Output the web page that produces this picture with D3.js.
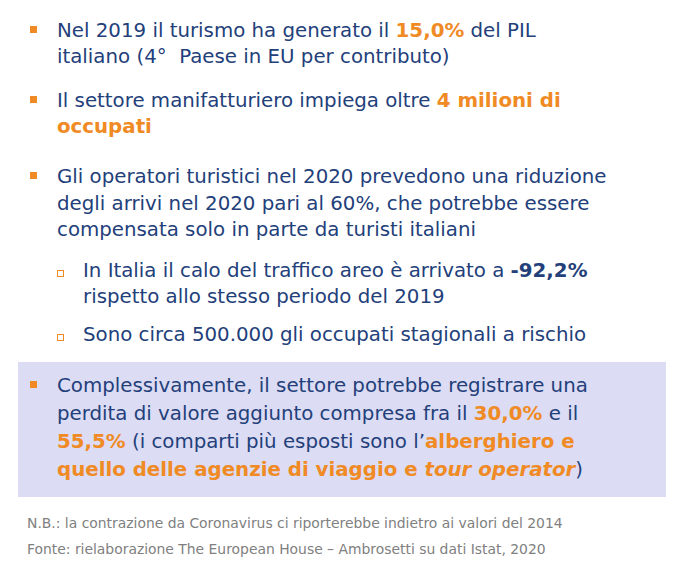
<!DOCTYPE html><html><head><meta charset="utf-8">
<script src="https://cdn.jsdelivr.net/npm/d3@7"></script>
<style>body{margin:0;background:#fff}</style></head><body><svg id="c" width="676" height="568"></svg>
<script>
// segments: [text, style] style: n normal, o orange bold, b blue bold, oi orange bold italic
const bullet1 = [[["Nel 2019 il turismo ha generato il ","n"],["15,0%","o"],[" del PIL","n"]],
                 [["italiano (4°  Paese in EU per contributo)","n"]]];
const bullet2 = [[["Il settore manifatturiero impiega oltre ","n"],["4 milioni di","o"]],
                 [["occupati","o"]]];
const bullet3 = [[["Gli operatori turistici nel 2020 prevedono una riduzione","n"]],
                 [["degli arrivi nel 2020 pari al 60%, che potrebbe essere","n"]],
                 [["compensata solo in parte da turisti italiani","n"]]];
const sub1 = [[["In Italia il calo del traffico areo è arrivato a ","n"],["-92,2%","b"]],
              [["rispetto allo stesso periodo del 2019","n"]]];
const sub2 = [[["Sono circa 500.000 gli occupati stagionali a rischio","n"]]];
const bullet4 = [[["Complessivamente, il settore potrebbe registrare una","n"]],
                 [["perdita di valore aggiunto compresa fra il ","n"],["30,0%","o"],[" e il","n"]],
                 [["55,5%","o"],[" (i comparti più esposti sono l’","n"],["alberghiero e","o"]],
                 [["quello delle agenzie di viaggio e ","o"],["tour operator","oi"],[")","n"]]];
const notes = ["N.B.: la contrazione da Coronavirus ci riporterebbe indietro ai valori del 2014",
               "Fonte: rielaborazione The European House – Ambrosetti su dati Istat, 2020"];

const svg = d3.select("#c");
const blue="#23407a", orange="#f08a24";
svg.append("rect").attr("x",18).attr("y",362).attr("width",648).attr("height",135).attr("fill","#dcdcf4");
const font="DejaVu Sans, Verdana, sans-serif";
function block(lines,x,y0,lh,bulletType){
  if(bulletType==="main") svg.append("rect").attr("x",30).attr("y",y0-11).attr("width",7).attr("height",7).attr("fill",orange);
  if(bulletType==="sub") svg.append("rect").attr("x",57.5).attr("y",y0-6.5).attr("width",6).attr("height",6).attr("fill","none").attr("stroke",orange).attr("stroke-width",1);
  lines.forEach((segs,i)=>{
    const t=svg.append("text").attr("x",x).attr("y",y0+i*lh).attr("font-family",font).attr("font-size",19.8).attr("fill",blue);
    t.selectAll("tspan").data(segs).join("tspan").text(d=>d[0])
      .attr("fill",d=>d[1]==="o"||d[1]==="oi"?orange:blue)
      .attr("font-weight",d=>d[1]==="n"?"normal":"bold")
      .attr("font-style",d=>d[1]==="oi"?"italic":"normal")
      .style("white-space","pre");
  });
}
block(bullet1,57,37,26,"main");
block(bullet2,57,107,26,"main");
block(bullet3,57,183,26.5,"main");
block(sub1,83,277,26,"sub");
block(sub2,83,341,26,"sub");
block(bullet4,57,392,28,"main");
svg.selectAll("text.note").data(notes).join("text").attr("class","note")
  .attr("x",27).attr("y",(d,i)=>528+i*26).attr("font-family",font).attr("font-size",13.9).attr("fill","#808080").text(d=>d);
</script></body></html>
